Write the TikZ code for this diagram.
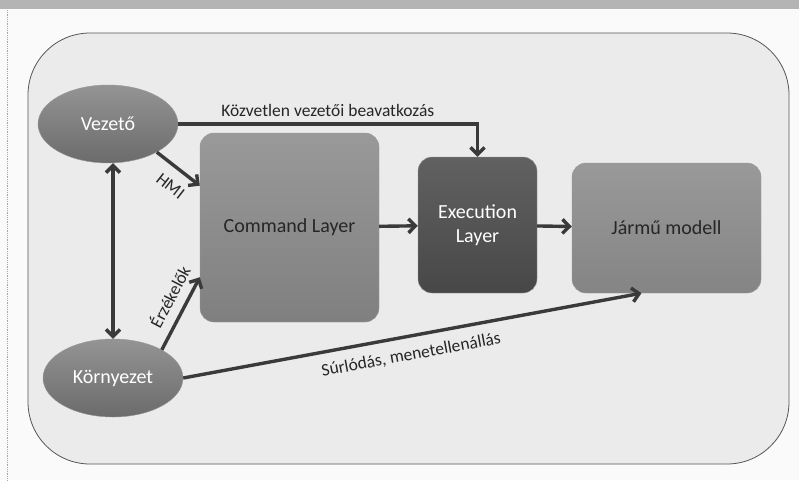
\documentclass[tikz,border=0pt]{standalone}
\usepackage{fontspec}
\setmainfont{Carlito}
\usetikzlibrary{arrows.meta,shapes.geometric}
\definecolor{pagegray}{HTML}{B4B4B4}
\definecolor{boxline}{HTML}{555555}
\definecolor{arrowgray}{HTML}{3A3A3A}
\definecolor{txtgray}{HTML}{262626}
\tikzset{
    oval/.style={ellipse, inner sep=0pt, minimum width=140pt, minimum height=78pt,
        top color=black!42, bottom color=black!58, draw=black!40, text=white, font=\fontsize{20}{22}\selectfont},
    layer/.style={rectangle, rounded corners=14pt, inner sep=0pt, align=center,
        font=\fontsize{20}{24}\selectfont, draw=black!40},
    arr/.style={draw=arrowgray, line width=3.4pt, -{Straight Barb[length=7pt,width=14pt]}},
    biarr/.style={arr, {Straight Barb[length=7pt,width=14pt]}-{Straight Barb[length=7pt,width=14pt]}},
    lbl/.style={text=txtgray, font=\fontsize{17.5}{19}\selectfont, inner sep=2pt}
}
\begin{document}
\begin{tikzpicture}[x=1pt, y=-1pt]
                \useasboundingbox (0,0) rectangle (799,480);
                \fill[white!98!black] (0,0) rectangle (799,480);
                \fill[pagegray] (0,0) rectangle (799,9);
                \draw[black!35, densely dotted, line width=0.8pt] (7,10) -- (7,480);
                \draw[boxline, fill=black!8, line width=0.8pt, rounded corners=62pt] (28,33) rectangle (789,464);
                \node[oval] (vez) at (108,124) {Vezető};
                \node[oval] (kor) at (113,378) {Környezet};
                \node[layer, minimum width=179pt, minimum height=189pt, top color=black!40, bottom color=black!50,
                    text=txtgray] (cmd) at (289.5,227.5) {Command Layer};
                \node[layer, minimum width=119pt, minimum height=136pt, top color=black!62, bottom color=black!72,
                    text=white] (exe) at (477.5,225) {Execution\\Layer};
                \node[layer, minimum width=189pt, minimum height=130pt, top color=black!40, bottom color=black!48,
                    text=txtgray] (jar) at (666.5,228) {Jármű modell};
                \draw[arr] (vez.east) -| node[lbl, pos=0.25, above=4pt] {Közvetlen vezetői beavatkozás} (exe.north);
                \draw[arr] (vez.-30) -- node[lbl, sloped, below=9pt, pos=0.58] {HMI} (cmd.155);
                \draw[biarr] (kor.north) -- (kor.north |- vez.south);
                \draw[arr] (kor.30) -- node[lbl, sloped, above=7pt, pos=0.62] {Érzékelők} (cmd.209);
                \draw[arr] (cmd) -- (exe);
                \draw[arr] (exe) -- (jar);
                \draw[arr] (kor.east) -- node[lbl, sloped, below=8pt, pos=0.49] {Súrlódás, menetellenállás} (jar.249);
            \end{tikzpicture}
\end{document}
